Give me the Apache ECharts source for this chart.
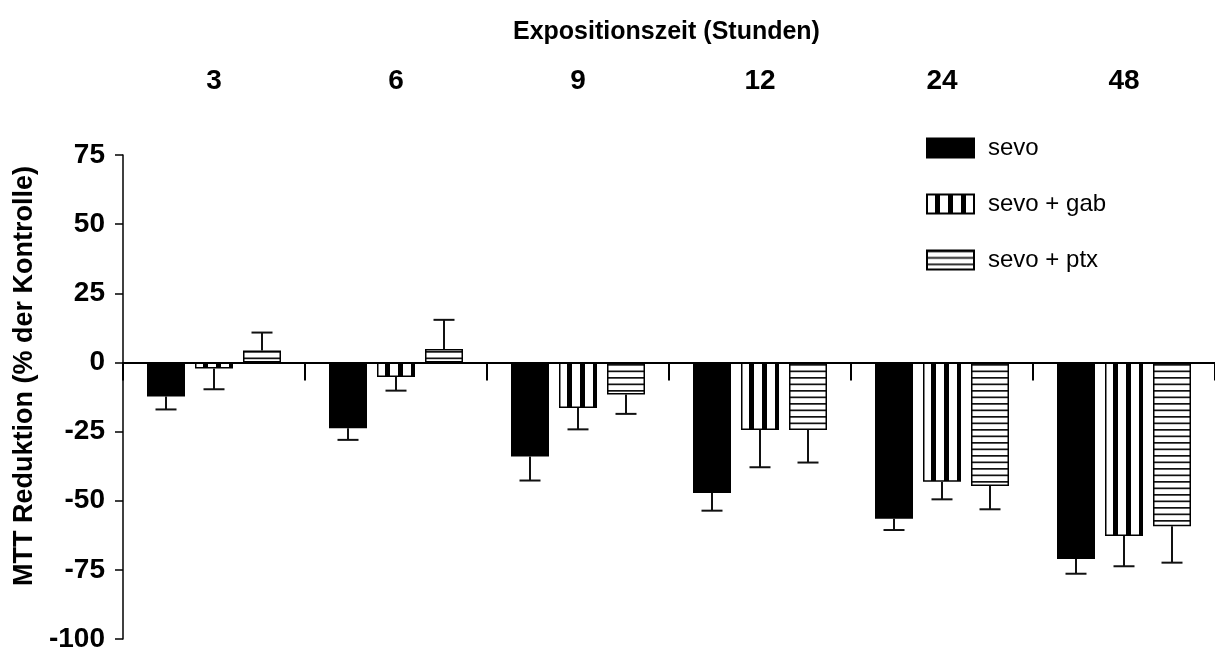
<!DOCTYPE html>
<html>
<head>
<meta charset="utf-8">
<script src="https://cdn.jsdelivr.net/npm/echarts@6/dist/echarts.min.js"></script>
<style>html,body{margin:0;padding:0;background:#fff}#c{width:1215px;height:653px}</style>
</head>
<body>
<div id="c"></div>
<script>
// ---- data ----
var categories = ['3', '6', '9', '12', '24', '48'];
var seriesNames = ['sevo', 'sevo + gab', 'sevo + ptx'];
var sevo     = [-12.3, -23.8, -34.0, -47.2, -56.5, -71.1];
var sevoErr  = [4.7, 4.2, 8.7, 6.4, 4.1, 5.3];
var gab      = [-2.2, -5.3, -16.5, -24.4, -43.1, -62.8];
var gabErr   = [7.5, 4.9, 7.7, 13.5, 6.4, 10.9];
var ptx      = [4.3, 4.9, -11.6, -24.4, -44.7, -59.2];
var ptxErr   = [6.5, 10.5, 7.0, 11.8, 8.4, 13.2];
var yTicks = {min: -100, max: 75, interval: 25};

// ---- patterns ----
function vStripes() {
  var c = document.createElement('canvas'); c.width = 13; c.height = 4;
  var g = c.getContext('2d');
  g.fillStyle = '#fff'; g.fillRect(0, 0, 13, 4);
  g.fillStyle = '#000'; g.fillRect(8, 0, 5, 4);
  return {image: c, repeat: 'repeat'};
}
function hStripes() {
  var c = document.createElement('canvas'); c.width = 4; c.height = 13;
  var g = c.getContext('2d');
  g.fillStyle = '#fff'; g.fillRect(0, 0, 4, 13);
  g.fillStyle = '#111'; g.fillRect(0, 0, 4, 1.7); g.fillRect(0, 6.5, 4, 1.7);
  return {image: c, repeat: 'repeat'};
}

var FONT = 'Liberation Sans, Arial, sans-serif';
var BAR_W = 38, BAR_GAP = 10;

function errSeries(idx, means, errs) {
  var data = means.map(function (m, i) { return [i, m, errs[i]]; });
  return {
    type: 'custom',
    xAxisIndex: 0,
    z: 5,
    silent: true,
    data: data,
    encode: {x: 0, y: 1},
    renderItem: function (params, api) {
      var cat = api.value(0), m = api.value(1), e = api.value(2);
      var end = m >= 0 ? m + e : m - e;
      var p0 = api.coord([cat, m]);
      var p1 = api.coord([cat, end]);
      var x = p0[0] + (idx - 1) * (BAR_W + BAR_GAP);
      var style = {stroke: '#111', lineWidth: 2};
      return {
        type: 'group',
        children: [
          {type: 'line', shape: {x1: x, y1: p0[1], x2: x, y2: p1[1]}, style: style},
          {type: 'line', shape: {x1: x - 10.5, y1: p1[1], x2: x + 10.5, y2: p1[1]}, style: style}
        ]
      };
    }
  };
}

var chart = echarts.init(document.getElementById('c'));
chart.setOption({
  animation: false,
  backgroundColor: '#fff',
  title: {
    text: 'Expositionszeit (Stunden)',
    left: 508, top: 15,
    textStyle: {fontFamily: FONT, fontSize: 25, fontWeight: 'bold', color: '#000'}
  },
  legend: {
    data: seriesNames,
    orient: 'vertical',
    left: 926, top: 136, padding: 0,
    itemWidth: 47, itemHeight: 19, itemGap: 32,
    icon: 'rect',
    textStyle: {fontFamily: FONT, fontSize: 24, color: '#000', padding: [0, 0, 0, 9]}
  },
  grid: {left: 123, top: 155, width: 1092, height: 485, containLabel: false},
  xAxis: [
    {
      type: 'category', data: categories, position: 'bottom',
      axisLine: {show: true, onZero: true, lineStyle: {color: '#000', width: 2}},
      axisTick: {show: true, length: 18, lineStyle: {color: '#000', width: 2}},
      axisLabel: {show: false},
      splitLine: {show: false}
    },
    {
      type: 'category', data: categories, position: 'top',
      axisLine: {show: false, onZero: false},
      axisTick: {show: false},
      axisLabel: {show: true, margin: 60, fontFamily: FONT, fontSize: 28, fontWeight: 'bold', color: '#000'},
      splitLine: {show: false}
    }
  ],
  yAxis: {
    type: 'value', min: yTicks.min, max: yTicks.max, interval: yTicks.interval,
    name: 'MTT Reduktion (% der Kontrolle)',
    nameLocation: 'middle', nameGap: 76,
    nameTextStyle: {fontFamily: FONT, fontSize: 27, fontWeight: 'bold', color: '#000', padding: [0, 0, 0, 42]},
    axisLine: {show: true, lineStyle: {color: '#000', width: 1.5}},
    axisTick: {show: true, length: 8, lineStyle: {color: '#000', width: 1.5}},
    axisLabel: {margin: 18, fontFamily: FONT, fontSize: 28, fontWeight: 'bold', color: '#000'},
    splitLine: {show: false}
  },
  series: [
    {
      name: seriesNames[0], type: 'bar', data: sevo, barWidth: BAR_W, barGap: (BAR_GAP / BAR_W * 100) + '%',
      itemStyle: {color: '#000', borderColor: '#000', borderWidth: 1.5}
    },
    {
      name: seriesNames[1], type: 'bar', data: gab, barWidth: BAR_W,
      itemStyle: {color: vStripes(), borderColor: '#000', borderWidth: 1.5}
    },
    {
      name: seriesNames[2], type: 'bar', data: ptx, barWidth: BAR_W,
      itemStyle: {color: hStripes(), borderColor: '#000', borderWidth: 1.5}
    },
    errSeries(0, sevo, sevoErr),
    errSeries(1, gab, gabErr),
    errSeries(2, ptx, ptxErr)
  ]
});
</script>
</body>
</html>
